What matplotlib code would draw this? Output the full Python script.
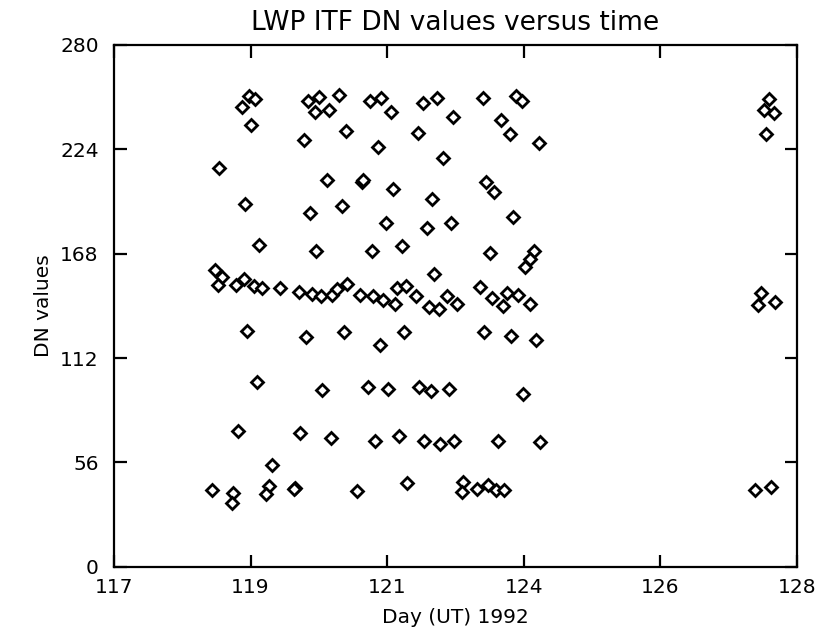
import matplotlib
matplotlib.use("Agg")
import matplotlib.pyplot as plt

# 数据（从原图读取：日期 / DN 值）
days = [
    119.06, 119.18, 119.27, 119.21, 120.06, 120.13, 120.30, 120.24, 120.46, 120.63,
    120.74, 118.70, 120.43, 119.11, 120.16, 120.67, 119.34, 120.26, 118.62, 118.74,
    118.67, 118.97, 119.10, 119.25, 119.39, 119.68, 119.98, 120.19, 120.34, 120.52,
    120.60, 120.76, 119.15, 120.10, 120.70, 119.30, 120.35, 119.00, 119.99, 120.50,
    119.54, 118.58, 118.91, 118.90, 119.50, 119.45, 119.92, 119.90,
    121.12, 121.31, 121.46, 121.98, 122.20, 122.46, 122.94, 123.47, 123.58, 123.23,
    123.38, 123.84, 121.25, 121.90, 122.30, 121.00, 121.02, 121.49, 122.12, 123.00,
    123.13, 121.39, 122.04, 122.43, 123.43, 121.16, 121.64, 123.06, 123.77, 123.70,
    123.63, 122.16,
    120.97, 121.17, 121.34, 121.52, 121.56, 121.71, 121.87, 122.07, 122.23, 122.37,
    122.52, 122.89, 123.09, 123.26, 123.33, 123.51, 123.70, 121.28, 121.67, 122.96,
    123.40, 123.80, 121.09, 121.41, 121.92, 122.10, 122.39, 123.59, 121.20, 121.60,
    122.00, 122.26, 122.48, 123.19, 123.86, 120.92, 121.72, 122.63, 122.61, 122.85,
    123.02, 123.16, 123.29,
    127.55, 127.47, 127.64, 127.51, 127.43, 127.38, 127.65, 127.33, 127.58,
]
dn_values = [
    246.9, 252.6, 251.0, 237.1, 229.0, 249.9, 252.3, 244.2, 245.1, 253.2,
    234.0, 213.8, 207.5, 194.7, 189.7, 193.6, 172.7, 169.6, 159.2, 155.3,
    151.2, 151.2, 154.2, 150.7, 149.4, 149.7, 147.3, 146.2, 145.4, 145.8,
    148.9, 151.6, 126.7, 123.4, 125.8, 99.0, 94.8, 72.8, 71.9, 68.9,
    54.6, 41.2, 39.7, 34.3, 43.5, 39.0, 42.1, 41.5,
    249.9, 251.7, 243.9, 248.7, 251.4, 241.5, 251.4, 252.8, 250.1, 239.7,
    232.2, 227.2, 225.4, 232.6, 219.2, 206.5, 207.7, 202.6, 197.2, 206.3,
    200.9, 184.3, 181.6, 184.3, 187.5, 169.6, 172.3, 168.5, 169.6, 165.0,
    161.0, 157.1,
    145.8, 145.4, 143.1, 141.0, 149.4, 150.7, 145.4, 139.2, 138.1, 145.4,
    141.0, 150.3, 144.1, 140.1, 147.1, 145.8, 141.0, 119.0, 126.1, 125.8,
    123.8, 121.7, 96.6, 95.2, 96.3, 94.3, 95.4, 92.7, 67.6, 70.3,
    67.5, 65.7, 67.5, 67.5, 67.1, 40.8, 45.1, 45.6, 40.3, 41.5,
    43.8, 41.2, 41.2,
    251.2, 244.9, 243.6, 232.4, 147.1, 140.4, 141.9, 41.2, 42.8,
]

x_ticks = [117.0, 119.2, 121.4, 123.6, 125.8, 128.0]
x_tick_labels = ["117", "119", "121", "124", "126", "128"]
y_ticks = [0, 56, 112, 168, 224, 280]

plt.rcParams["font.family"] = ["DejaVu Sans"]

fig = plt.figure(figsize=(8.17, 6.32), dpi=100)
ax = fig.add_axes([0.1395, 0.1033, 0.8357, 0.8255])

ax.plot(days, dn_values, linestyle="none", marker="D", markersize=6.5,
        markerfacecolor="white", markeredgecolor="black", markeredgewidth=2.0)

ax.set_xlim(117, 128)
ax.set_ylim(0, 280)
ax.set_xticks(x_ticks)
ax.set_xticklabels(x_tick_labels)
ax.set_yticks(y_ticks)

ax.tick_params(direction="in", length=9, width=1.6, top=True, right=True,
               labelsize=14.5, colors="black")
ax.tick_params(axis="x", pad=8)
ax.tick_params(axis="y", pad=11)
for s in ax.spines.values():
    s.set_linewidth(1.6)

ax.set_title("LWP ITF DN values versus time", fontsize=19, pad=11)
ax.set_xlabel("Day (UT) 1992", fontsize=14.5, labelpad=8)
ax.set_ylabel("DN values", fontsize=14.5, labelpad=5)

fig.savefig("out.png", dpi=100)
